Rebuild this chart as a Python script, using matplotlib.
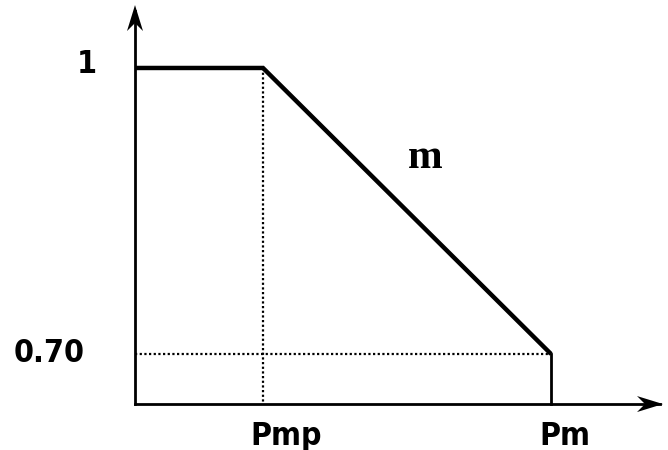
import matplotlib.pyplot as plt
from matplotlib.patches import Polygon
import matplotlib.transforms as mtransforms

# schematic curve: flat at 1 until Pmp, then linear down to 0.70 at Pm
x_pts = [0.0, 1.0, 3.25]
y_pts = [1.0, 1.0, 0.70]
x_ticks = [1.0, 3.25]
x_labels = ['Pmp', 'Pm']
y_ticks = [1.0, 0.70]
y_labels = ['1', '0.70']
y_base = 0.6475

fig = plt.figure(figsize=(6.68, 4.5), dpi=100)
ax = fig.add_axes([0, 0, 1, 1])
ax.set_xlim(-1.0547, 4.164)
ax.set_ylim(0.5993, 1.0713)
ax.axis('off')


def stealth(tip_x, tip_y, vertical):
    # arrow head drawn in inches around the tip
    L, w, n = 0.26, 0.08, 0.18
    if vertical:
        verts = [(0, 0), (-w, -L), (0, -n), (w, -L)]
    else:
        verts = [(0, 0), (-L, w), (-n, 0), (-L, -w)]
    tr = fig.dpi_scale_trans + mtransforms.ScaledTranslation(tip_x, tip_y, ax.transData)
    ax.add_patch(Polygon(verts, closed=True, transform=tr, color='black', lw=0))


# axes
ax.plot([0, 0], [y_base, 1.06], color='black', lw=2.0, solid_capstyle='projecting')
ax.plot([0, 4.1], [y_base, y_base], color='black', lw=2.0, solid_capstyle='projecting')
stealth(0, 1.066, True)
stealth(4.125, y_base, False)

# main curve
ax.plot(x_pts, y_pts, color='black', lw=3.2, solid_capstyle='butt',
        solid_joinstyle='miter')
ax.plot([x_pts[-1], x_pts[-1]], [y_pts[-1], y_base], color='black', lw=2.0)

# dotted guides
ax.plot([x_pts[1], x_pts[1]], [y_pts[1], y_base], color='black', lw=1.6,
        ls=(0, (1, 1.1)))
ax.plot([0, x_pts[-1]], [y_pts[-1], y_pts[-1]], color='black', lw=1.6,
        ls=(0, (1, 1.1)))

font = dict(fontsize=23, fontweight='bold', family='DejaVu Sans',
            fontstretch='condensed')
x_shift = [0.18, 0.11]
for xv, dx, lab in zip(x_ticks, x_shift, x_labels):
    ax.text(xv + dx, 0.6135, lab, ha='center', va='center', **font)
ax.text(-0.38, y_ticks[0] + 0.004, y_labels[0], ha='center', va='center', **font)
ax.text(-0.67, y_ticks[1] + 0.001, y_labels[1], ha='center', va='center', **font)

ax.text(2.27, 0.906, 'm', ha='center', va='center', fontsize=30,
        fontweight='bold', family='Liberation Serif')

fig.savefig('out.png', dpi=100)
